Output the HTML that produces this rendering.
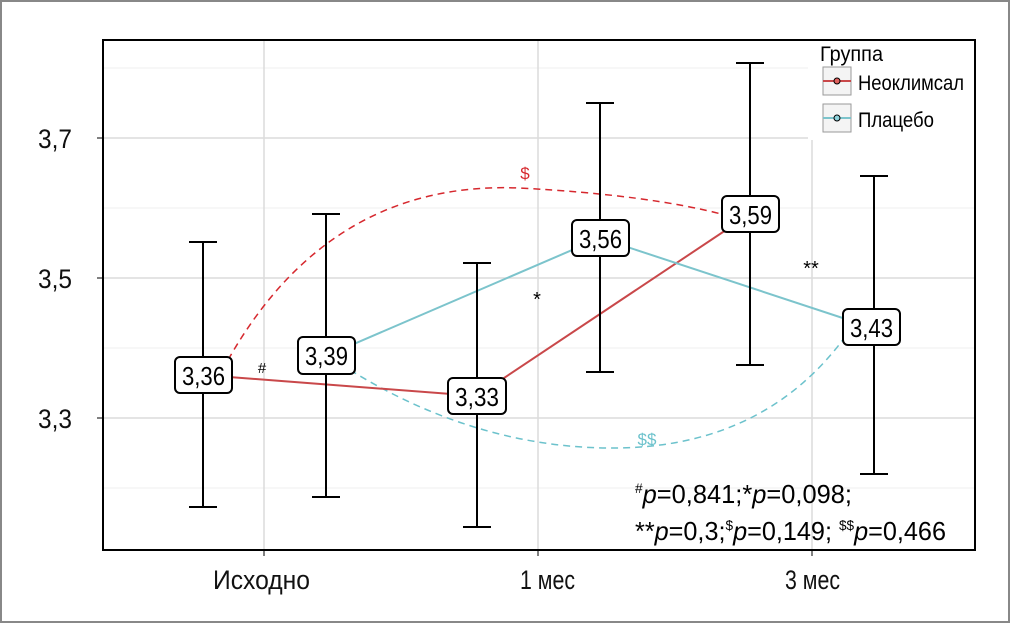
<!DOCTYPE html>
<html><head><meta charset="utf-8"><style>
body{margin:0;background:#fff}
svg text{font-family:"Liberation Sans Narrow","Liberation Sans",sans-serif}
</style></head><body>
<svg width="1010" height="623" xmlns="http://www.w3.org/2000/svg">
<rect x="1" y="1" width="1008" height="621" fill="#fff" stroke="#888" stroke-width="2"/>
<g stroke="#efefef" stroke-width="1">
<line x1="103" y1="68" x2="975" y2="68"/><line x1="103" y1="208" x2="975" y2="208"/>
<line x1="103" y1="348" x2="975" y2="348"/><line x1="103" y1="488" x2="975" y2="488"/>
</g>
<g stroke="#dcdcdc" stroke-width="1.5">
<line x1="103" y1="138" x2="975" y2="138"/><line x1="103" y1="278" x2="975" y2="278"/><line x1="103" y1="418" x2="975" y2="418"/>
<line x1="264" y1="40" x2="264" y2="550"/><line x1="538" y1="40" x2="538" y2="550"/><line x1="812" y1="40" x2="812" y2="550"/>
</g>
<g stroke="#000" stroke-width="1">
<line x1="97" y1="138" x2="103" y2="138"/><line x1="97" y1="278" x2="103" y2="278"/><line x1="97" y1="418" x2="103" y2="418"/>
<line x1="264" y1="550" x2="264" y2="556"/><line x1="538" y1="550" x2="538" y2="556"/><line x1="812" y1="550" x2="812" y2="556"/>
</g>
<g font-size="27" fill="#111">
<text x="38" y="148" textLength="34" lengthAdjust="spacingAndGlyphs">3,7</text>
<text x="38" y="288" textLength="34" lengthAdjust="spacingAndGlyphs">3,5</text>
<text x="38" y="428" textLength="34" lengthAdjust="spacingAndGlyphs">3,3</text>
<text x="213" y="589" textLength="97" lengthAdjust="spacingAndGlyphs">Исходно</text>
<text x="520" y="589" textLength="55" lengthAdjust="spacingAndGlyphs">1 мес</text>
<text x="785" y="589" textLength="55" lengthAdjust="spacingAndGlyphs">3 мес</text>
</g>
<path d="M228,360 Q330,180 520,188 Q650,195 725,215" fill="none" stroke="#d6282e" stroke-width="1.5" stroke-dasharray="7,5"/>
<path d="M350,370 Q480,450 620,448 Q770,445 850,330" fill="none" stroke="#6cc2cc" stroke-width="1.5" stroke-dasharray="7,5"/>
<polyline points="203,375 477,396 750,214" fill="none" stroke="#c9484a" stroke-width="2"/>
<polyline points="326,356 600,238 870,327" fill="none" stroke="#7cc4cc" stroke-width="2"/>
<g stroke="#000" stroke-width="2" fill="none">
<path d="M203,242V507M189,242H217M189,507H217"/>
<path d="M326,214V497M312,214H340M312,497H340"/>
<path d="M477,263V527M463,263H491M463,527H491"/>
<path d="M600,103V372M586,103H614M586,372H614"/>
<path d="M750,63V365M736,63H764M736,365H764"/>
<path d="M874,176V474M860,176H888M860,474H888"/>
</g>
<g fill="#fff" stroke="#000" stroke-width="2">
<rect x="175" y="357" width="57" height="36" rx="5"/>
<rect x="298" y="337" width="57" height="37" rx="5"/>
<rect x="448" y="378" width="58" height="36" rx="5"/>
<rect x="572" y="220" width="57" height="36" rx="5"/>
<rect x="722" y="196" width="57" height="36" rx="5"/>
<rect x="843" y="309" width="57" height="36" rx="5"/>
</g>
<g font-size="26" fill="#000">
<text x="182" y="385" textLength="43" lengthAdjust="spacingAndGlyphs">3,36</text>
<text x="305" y="365" textLength="43" lengthAdjust="spacingAndGlyphs">3,39</text>
<text x="455" y="406" textLength="44" lengthAdjust="spacingAndGlyphs">3,33</text>
<text x="579" y="248" textLength="43" lengthAdjust="spacingAndGlyphs">3,56</text>
<text x="729" y="224" textLength="43" lengthAdjust="spacingAndGlyphs">3,59</text>
<text x="850" y="337" textLength="43" lengthAdjust="spacingAndGlyphs">3,43</text>
</g>
<g font-size="20" text-anchor="middle">
<text x="262" y="373" font-size="15">#</text>
<text x="537" y="306">*</text>
<text x="811" y="275">**</text>
<text x="525" y="179" fill="#d6282e" font-size="17">$</text>
<text x="647" y="445" fill="#6cc2cc" font-size="17">$$</text>
</g>
<g font-size="26" fill="#000">
<text x="635" y="503" textLength="217" lengthAdjust="spacingAndGlyphs"><tspan font-size="14" dy="-10">#</tspan><tspan dy="10" font-style="italic">p</tspan>=0,841;*<tspan font-style="italic">p</tspan>=0,098;</text>
<text x="635" y="540" textLength="311" lengthAdjust="spacingAndGlyphs">**<tspan font-style="italic">p</tspan>=0,3;<tspan font-size="14" dy="-10">$</tspan><tspan dy="10" font-style="italic">p</tspan>=0,149; <tspan font-size="14" dy="-10">$$</tspan><tspan dy="10" font-style="italic">p</tspan>=0,466</text>
</g>
<rect x="808" y="40" width="166" height="100" fill="#fff"/>
<text x="820" y="61" font-size="21" textLength="63" lengthAdjust="spacingAndGlyphs">Группа</text>
<rect x="823" y="67" width="28" height="28" fill="#f4f4f4" stroke="#999"/>
<line x1="823" y1="81" x2="851" y2="81" stroke="#c9484a" stroke-width="2"/>
<circle cx="837" cy="81" r="3" fill="#e0625e" stroke="#000"/>
<rect x="823" y="104" width="28" height="28" fill="#f4f4f4" stroke="#999"/>
<line x1="823" y1="118" x2="851" y2="118" stroke="#7cc4cc" stroke-width="2"/>
<circle cx="837" cy="118" r="3" fill="#8fd3dc" stroke="#000"/>
<text x="858" y="90" font-size="21" textLength="106" lengthAdjust="spacingAndGlyphs">Неоклимсал</text>
<text x="858" y="127" font-size="21" textLength="76" lengthAdjust="spacingAndGlyphs">Плацебо</text>
<rect x="103" y="40" width="872" height="510" fill="none" stroke="#000" stroke-width="2"/>
</svg>
</body></html>
